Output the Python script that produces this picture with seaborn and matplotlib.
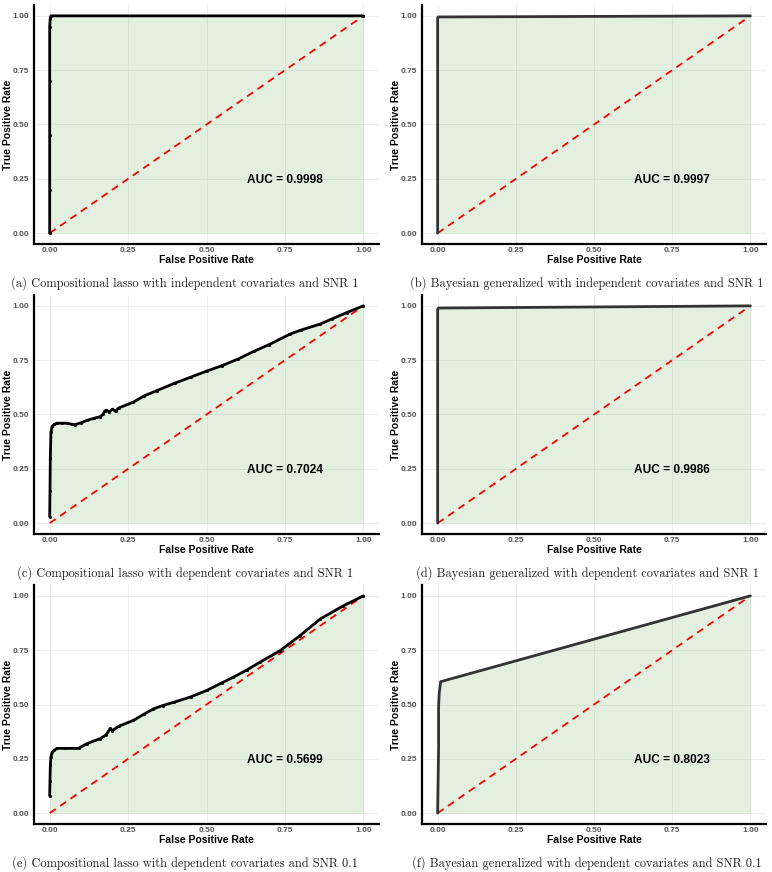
import matplotlib
matplotlib.use("Agg")
import matplotlib.pyplot as plt
import seaborn as sns
import pandas as pd

# ROC points
fpr_a = [0.0, 0.0, 0.0, 0.0, 0.0, 0.002, 0.004, 1.0]
tpr_a = [0.0, 0.2, 0.45, 0.7, 0.95, 0.99, 1.0, 1.0]

fpr_b = [0.0, 0.0, 0.002, 1.0]
tpr_b = [0.0, 0.99, 0.995, 1.0]

fpr_c = [0.0, 0.001, 0.002, 0.004, 0.008, 0.015, 0.023, 0.04, 0.055, 0.07, 0.08,
         0.1, 0.119, 0.14, 0.161, 0.17, 0.175, 0.18, 0.19, 0.2, 0.21, 0.22,
         0.267, 0.3, 0.342, 0.4, 0.45, 0.501, 0.55, 0.6, 0.65, 0.7, 0.766,
         0.8, 0.862, 0.9, 0.947, 1.0]
tpr_c = [0.03, 0.15, 0.3, 0.42, 0.445, 0.455, 0.46, 0.46, 0.46, 0.455, 0.453,
         0.462, 0.473, 0.482, 0.49, 0.5, 0.515, 0.52, 0.512, 0.525, 0.515, 0.53,
         0.557, 0.585, 0.61, 0.645, 0.672, 0.70, 0.725, 0.755, 0.79, 0.822, 0.87,
         0.888, 0.916, 0.94, 0.969, 1.0]

fpr_d = [0.0, 0.0, 0.003, 1.0]
tpr_d = [0.0, 0.985, 0.99, 1.0]

fpr_e = [0.0, 0.001, 0.002, 0.004, 0.008, 0.015, 0.023, 0.05, 0.092, 0.119,
         0.161, 0.18, 0.193, 0.2, 0.22, 0.267, 0.3, 0.331, 0.36, 0.395, 0.45,
         0.501, 0.55, 0.586, 0.63, 0.671, 0.735, 0.798, 0.862, 0.936, 1.0]
tpr_e = [0.08, 0.15, 0.22, 0.26, 0.28, 0.29, 0.298, 0.298, 0.298, 0.32,
         0.343, 0.36, 0.39, 0.38, 0.40, 0.427, 0.455, 0.48, 0.495, 0.51, 0.535,
         0.565, 0.6, 0.626, 0.66, 0.695, 0.748, 0.817, 0.893, 0.954, 1.0]

fpr_f = [0.0, 0.003, 0.003, 0.005, 0.0095, 1.0]
tpr_f = [0.0, 0.3, 0.49, 0.55, 0.605, 1.0]

auc_values = ["0.9998", "0.9997", "0.7024", "0.9986", "0.5699", "0.8023"]
captions = [
    "(a) Compositional lasso with independent covariates and SNR 1",
    "(b) Bayesian generalized with independent covariates and SNR 1",
    "(c) Compositional lasso with dependent covariates and SNR 1",
    "(d) Bayesian generalized with dependent covariates and SNR 1",
    "(e) Compositional lasso with dependent covariates and SNR 0.1",
    "(f) Bayesian generalized with dependent covariates and SNR 0.1",
]
ticks = [0.0, 0.25, 0.5, 0.75, 1.0]
tick_labels = ["0.00", "0.25", "0.50", "0.75", "1.00"]

curves = [(fpr_a, tpr_a), (fpr_b, tpr_b), (fpr_c, tpr_c),
          (fpr_d, tpr_d), (fpr_e, tpr_e), (fpr_f, tpr_f)]

sns.set_theme(style="white")
plt.rcParams['font.family'] = ['Liberation Sans', 'DejaVu Sans']

W, H = 772, 872
fig = plt.figure(figsize=(W / 100, H / 100), dpi=100)

col_left = [34, 422]
col_right = [379, 766]
caption_x = [185, 587]
row_top = [0, 290, 580]

for i, (fpr, tpr) in enumerate(curves):
    r, c = divmod(i, 2)
    x0, x1 = col_left[c], col_right[c]
    y_top, y_bot = row_top[r] + 5, row_top[r] + 244
    ax = fig.add_axes([x0 / W, 1 - y_bot / H, (x1 - x0) / W, (y_bot - y_top) / H])

    df = pd.DataFrame({"fpr": fpr, "tpr": tpr})
    ax.fill_between(df["fpr"], df["tpr"], 0, color="#73b464", alpha=0.2,
                    linewidth=0, zorder=1)
    sns.lineplot(x=[0, 1], y=[0, 1], ax=ax, color="red", linestyle=(0, (4, 3)),
                 linewidth=1.3, zorder=3)
    if c == 0:
        sns.lineplot(data=df, x="fpr", y="tpr", ax=ax, color="black",
                     linewidth=2.0, sort=False, estimator=None, zorder=4)
        sns.scatterplot(data=df, x="fpr", y="tpr", ax=ax, color="black", s=5,
                        linewidth=0, zorder=5)
    else:
        sns.lineplot(data=df, x="fpr", y="tpr", ax=ax, color="#333333",
                     linewidth=2.0, sort=False, estimator=None, zorder=4)

    ax.text(0.75, 0.245, f"AUC = {auc_values[i]}", ha="center", va="center",
            fontsize=8.6, fontweight="bold", color="black", zorder=6)

    ax.set_xlim(-0.05, 1.05)
    ax.set_ylim(-0.05, 1.05)
    ax.set_xticks(ticks)
    ax.set_xticklabels(tick_labels)
    ax.set_yticks(ticks)
    ax.set_yticklabels(tick_labels)
    ax.tick_params(axis="both", labelsize=6, colors="#555555", length=0)
    ax.tick_params(axis="x", pad=2)
    ax.tick_params(axis="y", pad=3.5)
    for lab in ax.get_xticklabels() + ax.get_yticklabels():
        lab.set_fontweight("bold")
    ax.grid(True, color="#ebebeb", linewidth=0.6, zorder=0)
    ax.set_axisbelow(True)
    for s in ["top", "right"]:
        ax.spines[s].set_visible(False)
    for s in ["left", "bottom"]:
        ax.spines[s].set_color("black")
        ax.spines[s].set_linewidth(1.6)
    ax.set_xlabel("False Positive Rate", fontsize=7.5, fontweight="bold",
                  color="black")
    ax.set_ylabel("True Positive Rate", fontsize=7.5, fontweight="bold",
                  color="black")
    ax.xaxis.set_label_coords(0.5, -0.047)
    ax.yaxis.set_label_coords(-0.06, 0.5)

    fig.text(caption_x[c] / W, 1 - (row_top[r] + 283) / H, captions[i],
             ha="center", va="center", fontsize=8.9, family="cmr10",
             color="#222222")

fig.savefig("out.png", dpi=100)
